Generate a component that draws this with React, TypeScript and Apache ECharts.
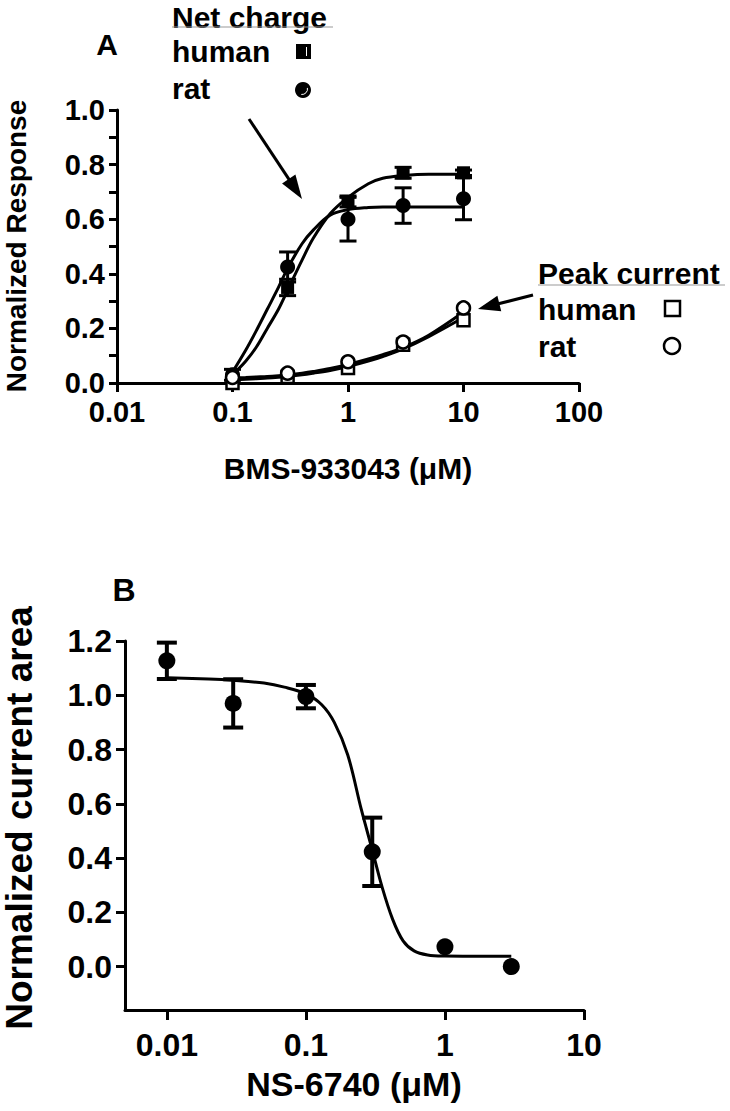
import React, { useEffect, useRef } from "react";
import * as echarts from "echarts";

// ---------- Panel A data (BMS-933043, µM) ----------
const concA = [0.1, 0.3, 1, 3, 10];
const netHuman = [0.02, 0.35, 0.665, 0.77, 0.77];
const netHumanSem = [0.0, 0.03, 0.02, 0.02, 0.01];
const netRat = [0.03, 0.425, 0.6, 0.65, 0.675];
const netRatSem = [0.02, 0.055, 0.08, 0.065, 0.077];
const peakHuman = [0.0, 0.022, 0.055, 0.14, 0.23];
const peakRat = [0.02, 0.036, 0.078, 0.15, 0.275];

// fitted curves
const curveX_A = [0.1, 0.13, 0.16, 0.2, 0.25, 0.3, 0.4, 0.5, 0.7, 1, 1.5, 2, 3, 5, 10];
const curveNetHuman = [0.03, 0.08, 0.13, 0.2, 0.27, 0.34, 0.45, 0.53, 0.62, 0.68, 0.73, 0.75, 0.76, 0.765, 0.765];
const curveNetRat = [0.04, 0.12, 0.19, 0.27, 0.35, 0.42, 0.51, 0.56, 0.615, 0.635, 0.643, 0.645, 0.645, 0.645, 0.645];
const curvePeakHuman = [0.012, 0.014, 0.016, 0.018, 0.021, 0.024, 0.03, 0.036, 0.046, 0.06, 0.08, 0.097, 0.125, 0.17, 0.24];
const curvePeakRat = [0.018, 0.02, 0.022, 0.024, 0.027, 0.03, 0.036, 0.042, 0.053, 0.068, 0.088, 0.104, 0.13, 0.175, 0.26];

const xTicksA = [0.01, 0.1, 1, 10, 100];
const yTicksA = [0, 0.2, 0.4, 0.6, 0.8, 1.0];

// ---------- Panel B data (NS-6740, µM) ----------
const concB = [0.01, 0.03, 0.1, 0.3, 1, 3];
const areaB = [1.127, 0.97, 0.995, 0.423, 0.073, 0.0];
const areaSemB = [0.067, 0.089, 0.043, 0.126, 0, 0];
const curveX_B = [0.01, 0.02, 0.03, 0.05, 0.07, 0.1, 0.13, 0.16, 0.2, 0.25, 0.3, 0.35, 0.42, 0.5, 0.6, 0.75, 1, 2, 3];
const curveB = [1.065, 1.06, 1.055, 1.045, 1.03, 1.005, 0.965, 0.9, 0.78, 0.58, 0.43, 0.3, 0.175, 0.095, 0.058, 0.043, 0.039, 0.038, 0.038];

const xTicksB = [0.01, 0.1, 1, 10];
const yTicksB = [0, 0.2, 0.4, 0.6, 0.8, 1.0, 1.2];

const FONT = '"Liberation Sans", Arial, Helvetica, sans-serif';

const pairs = (xs: number[], ys: number[]) => xs.map((x, i) => [x, ys[i]]);
const bars = (xs: number[], ys: number[], es: number[]) =>
  xs.map((x, i) => [x, ys[i] - es[i], ys[i] + es[i]]).filter((d) => d[2] - d[1] > 0);

const fmtNum = (v: number) => String(Number(Number(v).toPrecision(6)));

function errorSeries(data: number[][], axis: number, cap: number, lw: number) {
  return {
    type: "custom",
    xAxisIndex: axis,
    yAxisIndex: axis,
    silent: true,
    z: 3,
    data,
    encode: { x: 0, y: [1, 2] },
    renderItem: (params: any, api: any) => {
      const x = api.value(0);
      const lo = api.coord([x, api.value(1)]);
      const hi = api.coord([x, api.value(2)]);
      const w = cap / 2;
      const st = { stroke: "#000", lineWidth: lw };
      return {
        type: "group",
        children: [
          { type: "line", shape: { x1: hi[0], y1: hi[1], x2: lo[0], y2: lo[1] }, style: st },
          { type: "line", shape: { x1: hi[0] - w, y1: hi[1], x2: hi[0] + w, y2: hi[1] }, style: st },
          { type: "line", shape: { x1: lo[0] - w, y1: lo[1], x2: lo[0] + w, y2: lo[1] }, style: st },
        ],
      };
    },
  };
}

function curve(xs: number[], ys: number[], axis: number) {
  return {
    type: "line",
    xAxisIndex: axis,
    yAxisIndex: axis,
    data: pairs(xs, ys),
    showSymbol: false,
    smooth: 0.35,
    silent: true,
    z: 2,
    lineStyle: { color: "#000", width: 3, opacity: 1 },
  };
}

function marks(xs: number[], ys: number[], axis: number, symbol: string, size: number, filled: boolean) {
  return {
    type: "scatter",
    xAxisIndex: axis,
    yAxisIndex: axis,
    data: pairs(xs, ys),
    symbol,
    symbolSize: size,
    silent: true,
    z: 4,
    itemStyle: filled
      ? { color: "#000", opacity: 1 }
      : { color: "#fff", borderColor: "#000", borderWidth: 2.5, opacity: 1 },
  };
}

function txt(text: string, x: number, y: number, size: number, opts: any = {}) {
  return {
    type: "text",
    x,
    y,
    rotation: opts.rotation || 0,
    silent: true,
    style: {
      text,
      font: `bold ${size}px ${FONT}`,
      fill: "#000",
      align: opts.align || "left",
      verticalAlign: "middle",
    },
  };
}

function arrow(x1: number, y1: number, x2: number, y2: number, headLen: number, halfW: number) {
  const dx = x2 - x1;
  const dy = y2 - y1;
  const len = Math.sqrt(dx * dx + dy * dy);
  const ux = dx / len;
  const uy = dy / len;
  const bx = x2 - headLen * ux;
  const by = y2 - headLen * uy;
  const nx = -uy;
  const ny = ux;
  return [
    { type: "line", silent: true, shape: { x1, y1, x2: bx + ux * 2, y2: by + uy * 2 }, style: { stroke: "#000", lineWidth: 3 } },
    {
      type: "polygon",
      silent: true,
      shape: { points: [[x2, y2], [bx + halfW * nx, by + halfW * ny], [bx - halfW * nx, by - halfW * ny]] },
      style: { fill: "#000" },
    },
  ];
}

export default function App() {
  const ref = useRef<HTMLDivElement>(null);

  useEffect(() => {
    if (!ref.current) return;
    const chart = echarts.init(ref.current, null, { renderer: "svg" });

    const axisLine = { show: true, onZero: false, lineStyle: { color: "#000", width: 3 } };
    const tickStyle = { color: "#000", width: 3 };

    const option: any = {
      animation: false,
      backgroundColor: "#fff",
      grid: [
        { left: 117, top: 110, width: 462, height: 273, containLabel: false },
        { left: 125, top: 641, width: 459, height: 369, containLabel: false },
      ],
      xAxis: [
        {
          type: "log",
          logBase: 10,
          gridIndex: 0,
          min: 0.01,
          max: 100,
          axisLine,
          axisTick: { show: true, length: 9, lineStyle: tickStyle, customValues: xTicksA },
          axisLabel: {
            customValues: xTicksA,
            formatter: (v: number) => fmtNum(v),
            color: "#000",
            fontFamily: FONT,
            fontWeight: "bold",
            fontSize: 29,
            margin: 14,
          },
          splitLine: { show: false },
          minorTick: { show: false },
        },
        {
          type: "log",
          logBase: 10,
          gridIndex: 1,
          min: 0.005,
          max: 10,
          axisLine,
          axisTick: { show: true, length: 10, lineStyle: tickStyle, customValues: xTicksB },
          axisLabel: {
            customValues: xTicksB,
            formatter: (v: number) => fmtNum(v),
            color: "#000",
            fontFamily: FONT,
            fontWeight: "bold",
            fontSize: 32,
            margin: 19,
          },
          splitLine: { show: false },
          minorTick: { show: false },
        },
      ],
      yAxis: [
        {
          type: "value",
          gridIndex: 0,
          min: 0,
          max: 1,
          interval: 0.1,
          axisLine,
          axisTick: { show: true, length: 8, lineStyle: tickStyle },
          axisLabel: {
            formatter: (v: number) =>
              yTicksA.some((t) => Math.abs(t - v) < 1e-6) ? Number(v).toFixed(1) : "",
            color: "#000",
            fontFamily: FONT,
            fontWeight: "bold",
            fontSize: 29,
            margin: 12,
          },
          splitLine: { show: false },
        },
        {
          type: "value",
          gridIndex: 1,
          min: -0.16,
          max: 1.2,
          axisLine,
          axisTick: { show: true, length: 9, lineStyle: tickStyle, customValues: yTicksB },
          axisLabel: {
            customValues: yTicksB,
            formatter: (v: number) => Number(v).toFixed(1),
            color: "#000",
            fontFamily: FONT,
            fontWeight: "bold",
            fontSize: 32,
            margin: 13,
          },
          splitLine: { show: false },
        },
      ],
      series: [
        curve(curveX_A, curveNetHuman, 0),
        curve(curveX_A, curveNetRat, 0),
        curve(curveX_A, curvePeakHuman, 0),
        curve(curveX_A, curvePeakRat, 0),
        errorSeries(bars(concA, netHuman, netHumanSem), 0, 17, 3),
        errorSeries(bars(concA, netRat, netRatSem), 0, 17, 3),
        marks(concA, netHuman, 0, "rect", 13, true),
        marks(concA, netRat, 0, "circle", 15, true),
        marks(concA, peakHuman, 0, "rect", 12, false),
        marks(concA, peakRat, 0, "circle", 13, false),
        curve(curveX_B, curveB, 1),
        errorSeries(bars(concB, areaB, areaSemB), 1, 20, 4),
        marks(concB, areaB, 1, "circle", 17, true),
      ],
      graphic: [
        // Panel A labels
        txt("A", 107, 44, 30, { align: "center" }),
        txt("Normalized Response", 16, 246, 28, { align: "center", rotation: Math.PI / 2 }),
        txt("BMS-933043 (\u03BCM)", 348, 468, 30, { align: "center" }),
        // Net charge legend
        txt("Net charge", 172, 17, 30),
        { type: "line", silent: true, shape: { x1: 172, y1: 27, x2: 333, y2: 27 }, style: { stroke: "#999", lineWidth: 1 } },
        txt("human", 172, 51, 30),
        txt("rat", 172, 88, 30),
        { type: "rect", silent: true, shape: { x: 296, y: 44, width: 15, height: 15 }, style: { fill: "#000" } },
        { type: "rect", silent: true, shape: { x: 306, y: 47, width: 1, height: 9 }, style: { fill: "#fff" } },
        { type: "circle", silent: true, shape: { cx: 303, cy: 90, r: 8 }, style: { fill: "#000" } },
        { type: "arc", silent: true, shape: { cx: 302, cy: 89, r: 5.5, startAngle: -0.2, endAngle: 1.7 }, style: { stroke: "#fff", lineWidth: 1, fill: null } },
        ...arrow(249, 119, 302, 199, 24, 8),
        // Peak current legend
        txt("Peak current", 538, 273, 30),
        { type: "line", silent: true, shape: { x1: 538, y1: 285, x2: 725, y2: 285 }, style: { stroke: "#999", lineWidth: 1 } },
        txt("human", 538, 309, 30),
        txt("rat", 538, 346, 30),
        { type: "rect", silent: true, shape: { x: 665, y: 301, width: 15, height: 15 }, style: { fill: "#fff", stroke: "#000", lineWidth: 2.5 } },
        { type: "circle", silent: true, shape: { cx: 672, cy: 346, r: 8 }, style: { fill: "#fff", stroke: "#000", lineWidth: 2.5 } },
        ...arrow(533, 295, 478, 309, 22, 8),
        // Panel B labels
        txt("B", 124, 590, 32, { align: "center" }),
        txt("Normalized current area", 19, 818, 37, { align: "center", rotation: Math.PI / 2 }),
        txt("NS-6740 (\u03BCM)", 354, 1084, 34, { align: "center" }),
      ],
    };

    chart.setOption(option);
    return () => chart.dispose();
  }, []);

  return (
    <div
      ref={ref}
      style={{ position: "absolute", left: 0, top: 0, width: 730, height: 1111, background: "#fff" }}
    />
  );
}
